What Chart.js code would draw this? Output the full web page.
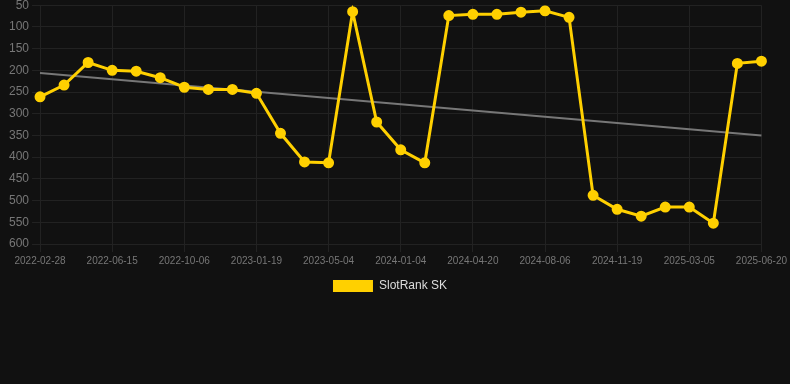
<!DOCTYPE html>
<html lang="en">
<head>
    <meta charset="UTF-8">
    <title>SlotRank SK</title>
    <script src="https://cdn.jsdelivr.net/npm/chart.js"></script>
    <style>
        html, body {
            margin: 0;
            padding: 0;
            background: #111111;
            overflow: hidden;
        }
    </style>
</head>
<body>
<div style="width: 790px; height: 307px; margin-top: -5px;">
    <canvas id="rank-chart"></canvas>
</div>

<script>
    const dates = [
        '2022-02-28', '2022-04-05', '2022-05-10',
        '2022-06-15', '2022-07-28', '2022-08-22',
        '2022-10-06', '2022-11-10', '2022-12-15',
        '2023-01-19', '2023-02-23', '2023-03-30',
        '2023-05-04', '2023-07-15', '2023-10-25',
        '2024-01-04', '2024-02-10', '2024-03-16',
        '2024-04-20', '2024-05-25', '2024-07-01',
        '2024-08-06', '2024-09-10', '2024-10-15',
        '2024-11-19', '2024-12-24', '2025-01-28',
        '2025-03-05', '2025-04-10', '2025-05-15',
        '2025-06-20'
    ];

    const rankValues = [
        261, 234, 182, 200, 202, 217, 239, 244, 244, 253,
        345, 411, 413, 65, 319, 383, 413, 74, 71, 71,
        66, 63, 78, 488, 520, 536, 515, 515, 552, 184,
        179
    ];

    // trend line: only the two ends, drawn straight across
    const trendStart = 206;
    const trendEnd = 350;
    const trendValues = dates.map((d, i) =>
        i === 0 ? trendStart : (i === dates.length - 1 ? trendEnd : null));

    const yTicks = [50, 100, 150, 200, 250, 300, 350, 400, 450, 500, 550, 600];

    const gridColor = '#222222';

    // nudge the legend a little to the left, like the original
    const legendShift = {
        id: 'legendShift',
        afterLayout(c) {
            c.legend.left -= 6;
            c.legend.right -= 6;
        }
    };

    let ctx = document.getElementById('rank-chart').getContext('2d');
    let chart = new Chart(ctx, {
        type: 'line',
        data: {
            labels: dates,
            datasets: [
                {
                    label: 'SlotRank SK',
                    data: rankValues,
                    borderColor: '#FFD000',
                    backgroundColor: '#FFD000',
                    borderWidth: 3,
                    pointRadius: 4,
                    pointBackgroundColor: '#FFD000',
                    pointBorderColor: '#FFD000',
                    tension: 0,
                    fill: false
                },
                {
                    label: 'trend',
                    data: trendValues,
                    borderColor: '#777777',
                    borderWidth: 2,
                    pointRadius: 0,
                    spanGaps: true,
                    fill: false
                }
            ]
        },
        plugins: [legendShift],
        options: {
            responsive: true,
            maintainAspectRatio: false,
            animation: false,
            layout: {
                padding: {left: 6, right: 4, top: 0, bottom: 0}
            },
            plugins: {
                legend: {
                    position: 'bottom',
                    labels: {
                        color: '#dddddd',
                        font: {family: 'Liberation Sans, Arial', size: 12},
                        boxWidth: 40,
                        boxHeight: 12,
                        generateLabels: c => Chart.defaults.plugins.legend.labels.generateLabels(c)
                            .filter(item => item.text !== 'trend')
                            .map(item => Object.assign(item, {lineWidth: 0}))
                    }
                },
                tooltip: {enabled: false}
            },
            scales: {
                x: {
                    grid: {
                        color: c => (c.index % 3 === 0 ? gridColor : 'rgba(0,0,0,0)')
                    },
                    border: {color: gridColor},
                    ticks: {
                        color: '#777777',
                        font: {family: 'Liberation Sans, Arial', size: 10},
                        maxRotation: 0,
                        autoSkip: false,
                        callback: function (value, index) {
                            return index % 3 === 0 ? dates[index] : '';
                        }
                    }
                },
                y: {
                    reverse: true,
                    min: 50,
                    max: 600,
                    afterBuildTicks: axis => {
                        axis.ticks = yTicks.map(v => ({value: v}));
                    },
                    grid: {color: gridColor},
                    border: {color: gridColor},
                    ticks: {
                        color: '#777777',
                        font: {family: 'Liberation Sans, Arial', size: 12}
                    }
                }
            }
        }
    });
</script>
</body>
</html>
